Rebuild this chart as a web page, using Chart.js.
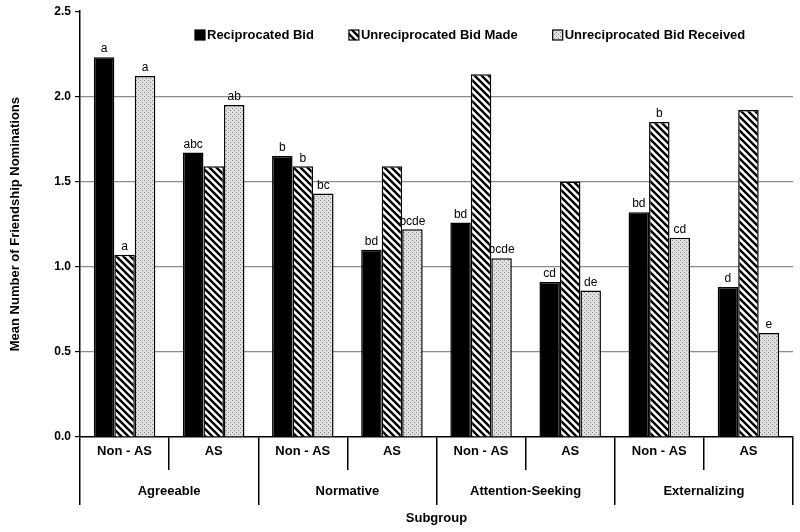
<!DOCTYPE html>
<html>
<head>
<meta charset="utf-8">
<script src="https://cdn.jsdelivr.net/npm/chart.js@4"></script>
<style>
  html, body { margin: 0; padding: 0; background: #fff; }
  #wrap { width: 800px; height: 532px; }
</style>
</head>
<body>
<div id="wrap"><canvas id="chart" width="800" height="532"></canvas></div>
<script>
// Data
const subLabels = ['Non - AS', 'AS', 'Non - AS', 'AS', 'Non - AS', 'AS', 'Non - AS', 'AS']
const groups = ['Agreeable', 'Normative', 'Attention-Seeking', 'Externalizing']
const reciprocated = [2.23, 1.67, 1.65, 1.10, 1.26, 0.91, 1.32, 0.88]
const bidMade = [1.07, 1.59, 1.59, 1.59, 2.13, 1.50, 1.85, 1.92]
const bidReceived = [2.12, 1.95, 1.43, 1.22, 1.05, 0.86, 1.17, 0.61]
const reciprocatedLetters = ['a', 'abc', 'b', 'bd', 'bd', 'cd', 'bd', 'd']
const madeLetters = ['a', '', 'b', '', '', '', 'b', '']
const receivedLetters = ['a', 'ab', 'bc', 'bcde', 'bcde', 'de', 'cd', 'e']

const FONT = '"Liberation Sans", Arial, sans-serif'

// Patterns
function stripePattern() {
    const s = 7
    const c = document.createElement('canvas')
    c.width = s; c.height = s
    const ctx = c.getContext('2d')
    ctx.fillStyle = '#fff'
    ctx.fillRect(0, 0, s, s)
    ctx.strokeStyle = '#000'
    ctx.lineWidth = 2.4
    ctx.beginPath()
    ctx.moveTo(-1, -1); ctx.lineTo(s + 1, s + 1)
    ctx.moveTo(-1, s - 1); ctx.lineTo(1, s + 1)
    ctx.moveTo(s - 1, -1); ctx.lineTo(s + 1, 1)
    ctx.stroke()
    return c.getContext('2d').createPattern(c, 'repeat')
}

function dotPattern() {
    const c = document.createElement('canvas')
    c.width = 4; c.height = 4
    const ctx = c.getContext('2d')
    ctx.fillStyle = '#e0e0e0'
    ctx.fillRect(0, 0, 4, 4)
    ctx.fillStyle = '#858585'
    ctx.fillRect(0, 0, 1, 1)
    ctx.fillRect(2, 2, 1, 1)
    return ctx.createPattern(c, 'repeat')
}

const letterSets = [reciprocatedLetters, madeLetters, receivedLetters]

const letterPlugin = {
    id: 'letters',
    afterDatasetsDraw(chart) {
        const { ctx } = chart
        ctx.save()
        ctx.font = '12px ' + FONT
        ctx.fillStyle = '#000'
        ctx.textAlign = 'center'
        ctx.textBaseline = 'bottom'
        chart.data.datasets.forEach((ds, di) => {
            const meta = chart.getDatasetMeta(di)
            meta.data.forEach((bar, i) => {
                const txt = letterSets[di][i]
                if (txt) ctx.fillText(txt, bar.x, bar.y - 2)
            })
        })
        ctx.restore()
    }
}

// Legend drawn in a row inside the plot area
const legendPlugin = {
    id: 'rowLegend',
    afterDraw(chart) {
        const { ctx } = chart
        let x = 195
        const y = 35
        ctx.save()
        ctx.font = 'bold 13px ' + FONT
        ctx.textBaseline = 'middle'
        ctx.textAlign = 'left'
        chart.data.datasets.forEach((ds) => {
            ctx.fillStyle = ds.backgroundColor
            ctx.fillRect(x, y - 5, 10, 10)
            ctx.strokeStyle = '#000'
            ctx.lineWidth = 1.2
            ctx.strokeRect(x, y - 5, 10, 10)
            ctx.fillStyle = '#000'
            ctx.fillText(ds.label, x + 12, y)
            x += 12 + ctx.measureText(ds.label).width + 35
        })
        ctx.restore()
    }
}

const barStyle = {
    borderColor: '#000',
    borderWidth: 1.5,
    borderSkipped: 'start',
    categoryPercentage: 0.69,
    barPercentage: 1.0,
}

new Chart(document.getElementById('chart'), {
    type: 'bar',
    data: {
        labels: subLabels,
        datasets: [
            { label: 'Reciprocated Bid', data: reciprocated, backgroundColor: '#000', ...barStyle },
            { label: 'Unreciprocated Bid Made', data: bidMade, backgroundColor: stripePattern(), ...barStyle },
            { label: 'Unreciprocated Bid Received', data: bidReceived, backgroundColor: dotPattern(), ...barStyle },
        ]
    },
    options: {
        responsive: false,
        animation: false,
        layout: { padding: { left: 5, right: 7, top: 4, bottom: 4 } },
        plugins: {
            tooltip: { enabled: false },
            legend: { display: false }
        },
        scales: {
            y: {
                min: 0,
                max: 2.5,
                afterFit: (scale) => { scale.width = 75 },
                ticks: {
                    stepSize: 0.5,
                    color: '#000',
                    padding: 4,
                    font: { family: FONT, size: 12, weight: 'bold' },
                    callback: (v) => v.toFixed(1)
                },
                grid: {
                    color: (c) => (c.tick && (c.tick.value === 0 || c.tick.value === 2.5)) ? 'rgba(0,0,0,0)' : '#8c8c8c',
                    lineWidth: 1.2,
                    tickColor: '#000',
                    tickLength: 5,
                },
                border: { color: '#000', width: 1.5 },
                title: {
                    display: true,
                    text: 'Mean Number of Friendship Nominations',
                    color: '#000',
                    font: { family: FONT, size: 13, weight: 'bold' },
                    padding: { top: 3, bottom: 4 }
                }
            },
            x: {
                weight: 0,
                afterFit: (scale) => { scale.height = 33 },
                ticks: {
                    color: '#000',
                    padding: -26,
                    font: { family: FONT, size: 13, weight: 'bold' },
                    maxRotation: 0,
                },
                grid: {
                    offset: true,
                    drawOnChartArea: false,
                    tickLength: 33,
                    tickColor: '#000',
                    lineWidth: 1.5,
                },
                border: { color: '#000', width: 1.5 },
            },
            x2: {
                type: 'category',
                position: 'bottom',
                labels: groups,
                offset: true,
                weight: 1,
                afterFit: (scale) => { scale.height = 58 },
                ticks: {
                    color: '#000',
                    padding: -21,
                    font: { family: FONT, size: 13, weight: 'bold' },
                    maxRotation: 0,
                },
                grid: {
                    offset: true,
                    drawOnChartArea: false,
                    tickLength: 35,
                    tickColor: '#000',
                    lineWidth: 1.5,
                },
                border: { display: false },
                title: {
                    display: true,
                    text: 'Subgroup',
                    color: '#000',
                    font: { family: FONT, size: 13, weight: 'bold' },
                    padding: { top: 0, bottom: 2 }
                }
            }
        }
    },
    plugins: [letterPlugin, legendPlugin]
})
</script>
</body>
</html>
